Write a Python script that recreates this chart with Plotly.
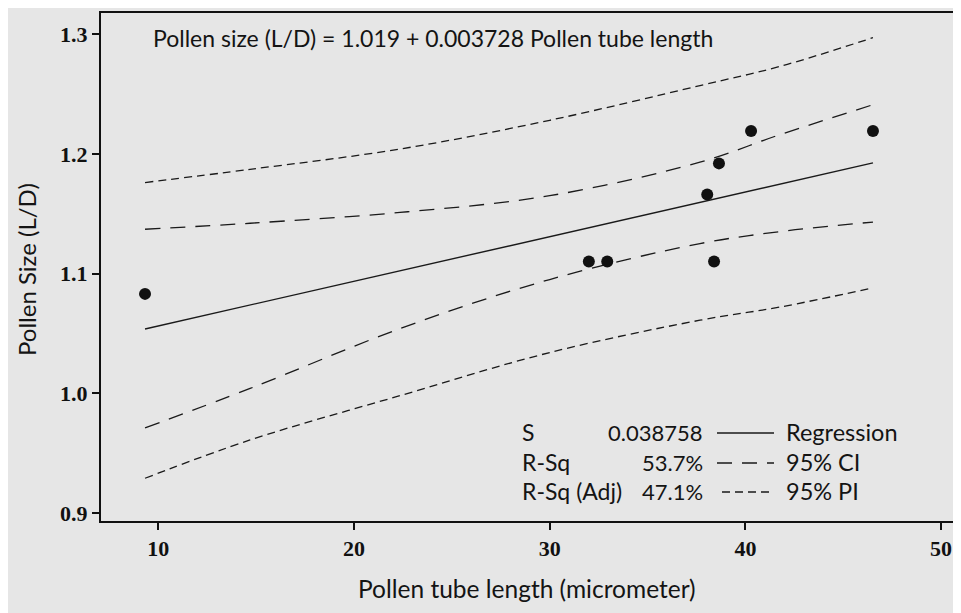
import plotly.graph_objects as go

# ---- data ----
tube_length = [9.32, 32.0, 32.94, 38.05, 38.40, 38.65, 40.29, 46.52]
pollen_size = [1.083, 1.110, 1.110, 1.166, 1.110, 1.192, 1.219, 1.219]

fit_x = [9.32, 46.52]
fit_y = [1.0537, 1.1924]

band_x = [9.32, 14.69, 22.35, 30.0, 37.68, 41.77, 46.52]
ci_upper = [1.137, 1.142, 1.151, 1.165, 1.193, 1.216, 1.241]
ci_lower = [0.971, 1.004, 1.054, 1.095, 1.125, 1.135, 1.143]
pi_upper = [1.176, 1.187, 1.204, 1.228, 1.257, 1.273, 1.297]
pi_lower = [0.929, 0.961, 0.998, 1.034, 1.061, 1.072, 1.088]

x_ticks = [10, 20, 30, 40, 50]
y_ticks = [0.9, 1.0, 1.1, 1.2, 1.3]

equation = "Pollen size (L/D) = 1.019 + 0.003728 Pollen tube length"
x_title = "Pollen tube length (micrometer)"
y_title = "Pollen Size (L/D)"
stat_names = ["S", "R-Sq", "R-Sq (Adj)"]
stat_values = ["0.038758", "53.7%", "47.1%"]
stat_labels = ["Regression", "95% CI", "95% PI"]

# ---- layout geometry (page pixels; the page body adds an 8px offset) ----
OFF = 8
W, H = 961 - OFF, 613 - OFF
L, R, T, B = 101, 953, 13, 521          # plot frame in page pixels
pw, ph = R - L, B - T


def px(xp):
    return (xp - L) / pw


def py(yp):
    return (B - yp) / ph


LINE = "#1a1a1a"
TXT = "#141414"
BG = "#e6e6e6"
ci_dash = "15px,10px"
pi_dash = "8px,5px"
FONT = "Lato"

fig = go.Figure()

for arr, dash in [(pi_upper, pi_dash), (pi_lower, pi_dash),
                  (ci_upper, ci_dash), (ci_lower, ci_dash)]:
    fig.add_trace(go.Scatter(x=band_x, y=arr, mode="lines",
                             line=dict(color=LINE, width=1.3, dash=dash, shape="spline",
                                       smoothing=1.0),
                             hoverinfo="skip", showlegend=False))

fig.add_trace(go.Scatter(x=fit_x, y=fit_y, mode="lines",
                         line=dict(color=LINE, width=1.4), showlegend=False))

fig.add_trace(go.Scatter(x=tube_length, y=pollen_size, mode="markers",
                         marker=dict(color="#111111", size=12), showlegend=False))

tickfont = dict(family="Liberation Serif", size=22, color="#111111", weight="bold")
axis_common = dict(showline=True, linecolor="#111111", linewidth=2, mirror=True,
                   showgrid=False, zeroline=False, ticks="outside", ticklen=7,
                   tickwidth=1.5, tickcolor="#111111", tickfont=tickfont,
                   automargin=False)

fig.update_layout(
    width=W, height=H,
    margin=dict(l=L - OFF, r=(W + OFF) - R, t=T - OFF, b=(H + OFF) - B),
    paper_bgcolor=BG, plot_bgcolor=BG,
    xaxis=dict(range=[7.07, 50.61], tickvals=x_ticks, **axis_common),
    yaxis=dict(range=[0.8933, 1.3176], tickvals=y_ticks, tickformat=".1f", **axis_common),
    font=dict(family=FONT, color=TXT),
)

ann = []
ann.append(dict(text=equation, x=px(151), y=py(38), xref="paper", yref="paper",
                xanchor="left", yanchor="middle", showarrow=False,
                font=dict(family=FONT, size=23, color=TXT)))
ann.append(dict(text=x_title, x=px(527), y=py(588), xref="paper", yref="paper",
                xanchor="center", yanchor="middle", showarrow=False,
                font=dict(family=FONT, size=24.5, color=TXT)))
ann.append(dict(text=y_title, x=px(26), y=py(270), xref="paper", yref="paper",
                xanchor="center", yanchor="middle", showarrow=False, textangle=-90,
                font=dict(family=FONT, size=24, color=TXT)))

rows_y = [432, 462, 491]
for i in range(3):
    ann.append(dict(text=stat_names[i], x=px(520), y=py(rows_y[i]), xref="paper", yref="paper",
                    xanchor="left", yanchor="middle", showarrow=False,
                    font=dict(family=FONT, size=23, color=TXT)))
    ann.append(dict(text=stat_values[i], x=px(705), y=py(rows_y[i]), xref="paper", yref="paper",
                    xanchor="right", yanchor="middle", showarrow=False,
                    font=dict(family=FONT, size=22, color=TXT)))
    ann.append(dict(text=stat_labels[i], x=px(784), y=py(rows_y[i]), xref="paper", yref="paper",
                    xanchor="left", yanchor="middle", showarrow=False,
                    font=dict(family=FONT, size=23.5, color=TXT)))
fig.update_layout(annotations=ann)

dashes = ["solid", ci_dash, pi_dash]
starts = [717, 717, 722]
for i in range(3):
    fig.add_shape(type="line", xref="paper", yref="paper",
                  x0=px(starts[i]), x1=px(774), y0=py(rows_y[i] + 1), y1=py(rows_y[i] + 1),
                  line=dict(color=LINE, width=1.4, dash=dashes[i]))

fig.write_html("out.html")
